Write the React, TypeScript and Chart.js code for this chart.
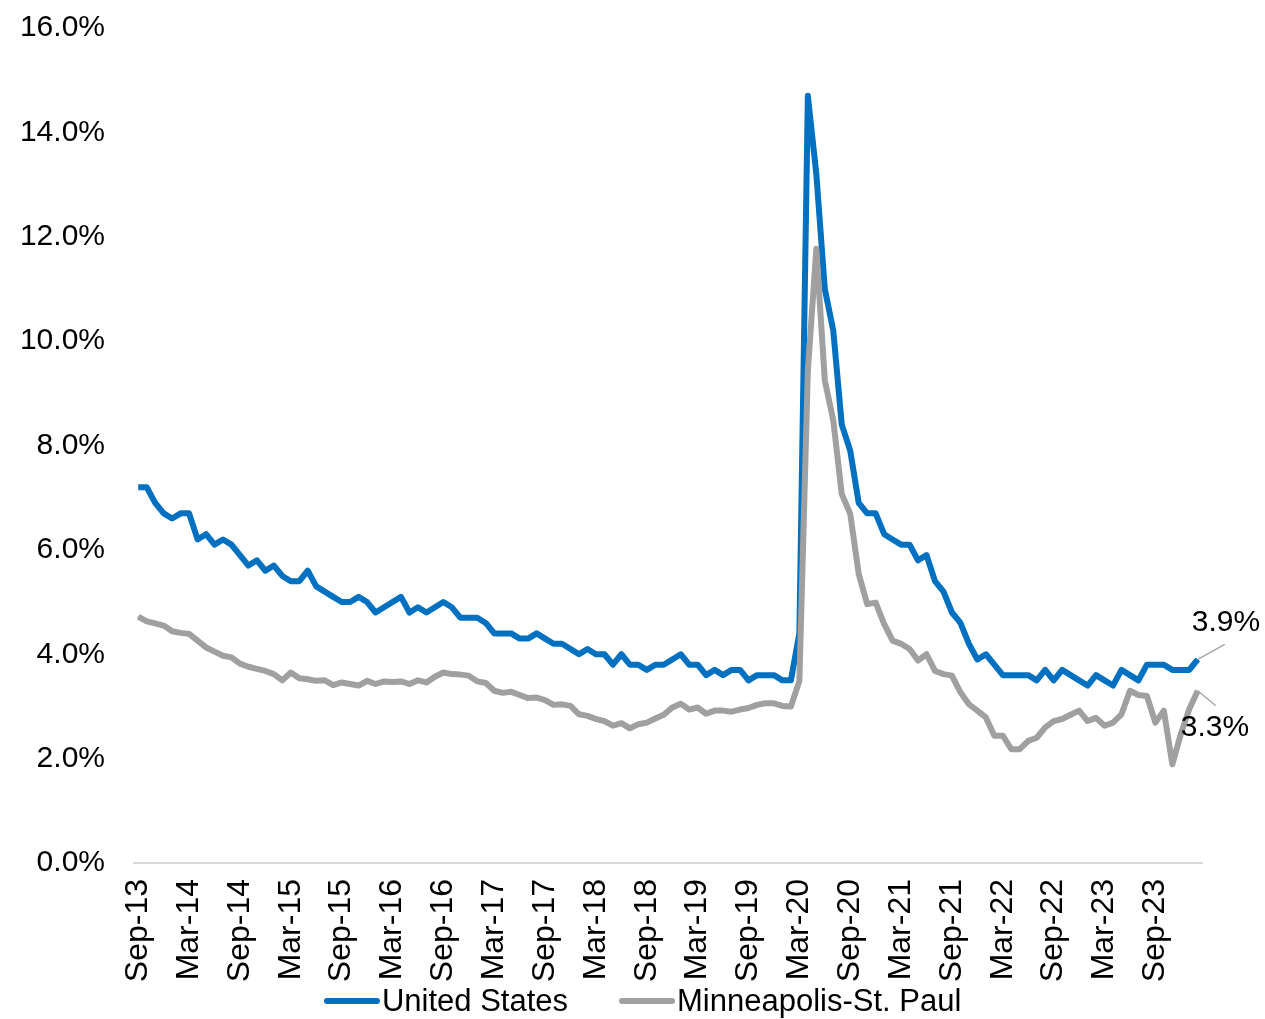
import React, { useEffect, useRef } from "react";
import { Chart, registerables } from "chart.js";

Chart.register(...registerables);

// Monthly unemployment rate (%), Sep-2013 through Feb-2024
const unitedStates: number[] = [
  7.2, 7.2, 6.9, 6.7, 6.6, 6.7, 6.7, 6.2, 6.3, 6.1, 6.2, 6.1, 5.9, 5.7, 5.8, 5.6,
  5.7, 5.5, 5.4, 5.4, 5.6, 5.3, 5.2, 5.1, 5.0, 5.0, 5.1, 5.0, 4.8, 4.9, 5.0, 5.1,
  4.8, 4.9, 4.8, 4.9, 5.0, 4.9, 4.7, 4.7, 4.7,
  4.6, 4.4, 4.4, 4.4, 4.3, 4.3, 4.4, 4.3, 4.2, 4.2, 4.1, 4.0, 4.1, 4.0, 4.0, 3.8,
  4.0, 3.8, 3.8, 3.7, 3.8, 3.8, 3.9, 4.0, 3.8, 3.8, 3.6, 3.7, 3.6, 3.7, 3.7, 3.5,
  3.6, 3.6, 3.6, 3.5, 3.5, 4.4,
  14.7, 13.2, 11.0, 10.2, 8.4, 7.9, 6.9, 6.7, 6.7, 6.3, 6.2, 6.1, 6.1, 5.8, 5.9,
  5.4, 5.2, 4.8, 4.6, 4.2, 3.9, 4.0, 3.8, 3.6,
  3.6, 3.6, 3.6, 3.5, 3.7, 3.5, 3.7, 3.6, 3.5, 3.4, 3.6, 3.5, 3.4, 3.7, 3.6, 3.5,
  3.8, 3.8, 3.8, 3.7, 3.7, 3.7, 3.9,
];

const minneapolisStPaul: number[] = [
  4.72, 4.63, 4.59, 4.55, 4.44, 4.41, 4.39, 4.26, 4.13, 4.05, 3.97, 3.94, 3.82,
  3.76, 3.72, 3.68, 3.62, 3.5, 3.65, 3.54, 3.52, 3.49, 3.5, 3.41, 3.46, 3.43, 3.4,
  3.49, 3.43, 3.48, 3.47, 3.48, 3.43, 3.5, 3.46, 3.57, 3.65, 3.62, 3.61, 3.59,
  3.48, 3.45, 3.3, 3.26, 3.28, 3.22, 3.16, 3.17, 3.12, 3.03, 3.04, 3.01, 2.85,
  2.82, 2.76, 2.72, 2.63, 2.68, 2.58, 2.66, 2.69, 2.77, 2.84, 2.98, 3.05, 2.94,
  2.98, 2.86, 2.92, 2.92, 2.9, 2.94, 2.97, 3.03, 3.06, 3.06, 3.01, 3.0, 3.49,
  9.44, 11.77, 9.25, 8.48, 7.07, 6.69, 5.54, 4.96, 4.99, 4.58, 4.26, 4.2, 4.1,
  3.88, 4.0, 3.68, 3.62, 3.59, 3.27, 3.04, 2.92, 2.79, 2.44, 2.44, 2.18, 2.18,
  2.34, 2.4, 2.6, 2.72, 2.76, 2.84, 2.92, 2.72, 2.78, 2.63, 2.69, 2.85, 3.3,
  3.22, 3.2, 2.69, 2.92, 1.89, 2.47, 2.95, 3.3,
];

const seriesNames = ["United States", "Minneapolis-St. Paul"];
const seriesColors = ["#0070C0", "#A0A0A0"];

// Category labels: one per month starting Sep-13
const monthNames = ["Jan", "Feb", "Mar", "Apr", "May", "Jun", "Jul", "Aug", "Sep", "Oct", "Nov", "Dec"];
const firstYear = 2013;
const firstMonth = 8;
const categories: string[] = unitedStates.map((_, i) => {
  const m = firstMonth + i;
  const yy = (firstYear + Math.floor(m / 12)) % 100;
  return `${monthNames[m % 12]}-${String(yy).padStart(2, "0")}`;
});

const FONT = "'Liberation Sans', Arial, Helvetica, sans-serif";

// Leader-line callouts for the latest value of each series
const calloutOffsets = [
  { lineDx: 27, lineDy: -15, textDx: -6, textDy: -37 },
  { lineDx: 18, lineDy: 15, textDx: -17, textDy: 37 },
];

const endLabels = {
  id: "endLabels",
  afterDatasetsDraw(chart: any) {
    const ctx = chart.ctx;
    ctx.save();
    chart.data.datasets.forEach((ds: any, i: number) => {
      const meta = chart.getDatasetMeta(i);
      const last = meta.data.length - 1;
      const pt = meta.data[last];
      const val = ds.data[last];
      const o = calloutOffsets[i];
      ctx.strokeStyle = "#A6A6A6";
      ctx.lineWidth = 1.5;
      ctx.beginPath();
      ctx.moveTo(pt.x, pt.y);
      ctx.lineTo(pt.x + o.lineDx, pt.y + o.lineDy);
      ctx.stroke();
      ctx.fillStyle = "#000";
      ctx.font = `30px ${FONT}`;
      ctx.textAlign = "left";
      ctx.textBaseline = "middle";
      ctx.fillText(`${val.toFixed(1)}%`, pt.x + o.textDx, pt.y + o.textDy);
    });
    ctx.restore();
  },
};

// Legend row under the axis: line sample followed closely by the series name
const lineLegend = {
  id: "lineLegend",
  afterDraw(chart: any) {
    const ctx = chart.ctx;
    ctx.save();
    ctx.font = `31px ${FONT}`;
    const sample = 56;
    const gap = 2;
    const between = 51;
    const items = chart.data.datasets.map((ds: any) => ({
      text: ds.label,
      color: ds.borderColor,
      w: sample + gap + ctx.measureText(ds.label).width,
    }));
    const total = items.reduce((s: number, it: any) => s + it.w, 0) + between * (items.length - 1);
    let x = chart.width * 0.508 - total / 2;
    const y = chart.height - 18;
    items.forEach((it: any) => {
      ctx.strokeStyle = it.color;
      ctx.lineWidth = 6;
      ctx.lineCap = "round";
      ctx.beginPath();
      ctx.moveTo(x + 3, y);
      ctx.lineTo(x + sample - 3, y);
      ctx.stroke();
      ctx.fillStyle = "#000";
      ctx.textAlign = "left";
      ctx.textBaseline = "middle";
      ctx.fillText(it.text, x + sample + gap, y + 1);
      x += it.w + between;
    });
    ctx.restore();
  },
};

export default function App() {
  const canvasRef = useRef<HTMLCanvasElement | null>(null);

  useEffect(() => {
    if (!canvasRef.current) return;
    const chart = new Chart(canvasRef.current, {
      type: "line",
      data: {
        labels: categories,
        datasets: [
          {
            label: seriesNames[0],
            data: unitedStates,
            borderColor: seriesColors[0],
            backgroundColor: seriesColors[0],
            borderWidth: 6,
            pointRadius: 0,
            tension: 0,
            borderJoinStyle: "round",
            order: 1,
          },
          {
            label: seriesNames[1],
            data: minneapolisStPaul,
            borderColor: seriesColors[1],
            backgroundColor: seriesColors[1],
            borderWidth: 6,
            pointRadius: 0,
            tension: 0,
            borderJoinStyle: "round",
            order: 0,
          },
        ],
      },
      options: {
        responsive: false,
        animation: false,
        devicePixelRatio: 1,
        layout: { padding: { left: 0, right: 63, top: 28, bottom: 0 } },
        plugins: {
          legend: { display: false },
          tooltip: { enabled: false },
        },
        scales: {
          x: {
            type: "category",
            offset: true,
            grid: { display: false, drawTicks: false },
            border: { display: true, color: "#D9D9D9", width: 2 },
            ticks: {
              autoSkip: false,
              minRotation: 90,
              maxRotation: 90,
              padding: 16,
              color: "#000",
              font: { family: FONT, size: 32 },
              callback: (_v: any, i: number) => (i % 6 === 0 ? categories[i] : ""),
            },
            afterFit: (s: any) => {
              s.height = 156;
            },
          },
          y: {
            min: 0,
            max: 16,
            grid: { display: false, drawTicks: false },
            border: { display: false },
            ticks: {
              stepSize: 2,
              padding: 29,
              color: "#000",
              font: { family: FONT, size: 30 },
              callback: (v: any) => `${Number(v).toFixed(1)}%`,
            },
            afterFit: (s: any) => {
              s.width = 134;
              s.paddingTop = 0;
              s.paddingBottom = 0;
            },
          },
        },
      },
      plugins: [endLabels, lineLegend],
    });
    return () => chart.destroy();
  }, []);

  return (
    <div style={{ position: "absolute", left: 0, top: 0, width: 1265, height: 1019, background: "#fff" }}>
      <canvas ref={canvasRef} width={1265} height={1019} />
    </div>
  );
}
